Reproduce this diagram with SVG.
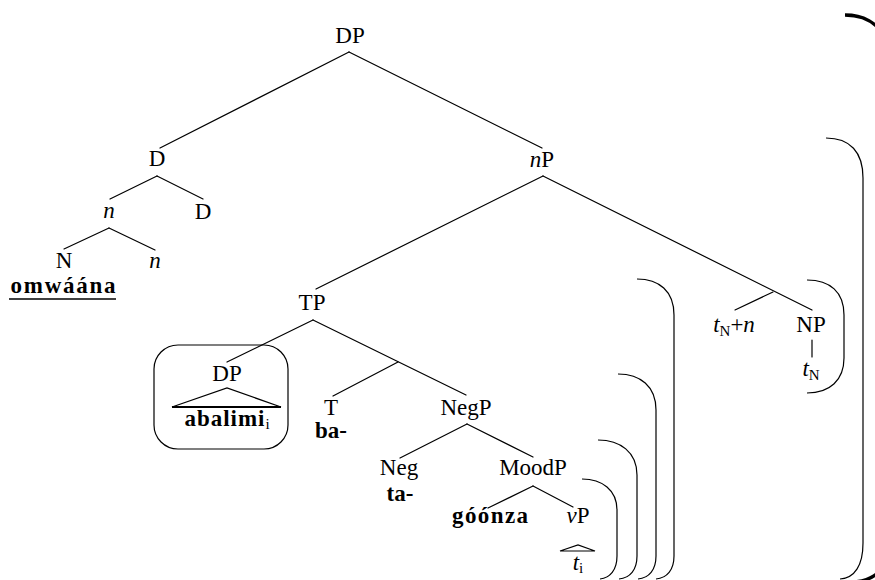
<svg xmlns="http://www.w3.org/2000/svg" width="875" height="580" viewBox="0 0 875 580">
<style>
.t{font-family:"Liberation Serif","Times New Roman",serif;font-size:23px;fill:#000;text-anchor:middle}
.b{font-weight:bold}
.i{font-style:italic}
.s{font-size:15px;font-style:normal}
.e{stroke:#000;stroke-width:1.2;fill:none;stroke-linecap:round}
.br{stroke:#000;stroke-width:1.2;fill:none}
.thick{stroke:#000;stroke-width:3.5;fill:none}
</style>
<rect width="875" height="580" fill="#fff"/>
<g id="connectors">
<line class="e" x1="349" y1="52" x2="160" y2="148"/>
<line class="e" x1="349" y1="52" x2="542" y2="148"/>
<line class="e" x1="157" y1="176" x2="110" y2="199"/>
<line class="e" x1="157" y1="176" x2="203" y2="199"/>
<line class="e" x1="109" y1="228" x2="64" y2="249"/>
<line class="e" x1="109" y1="228" x2="155" y2="250"/>
<line class="e" x1="543" y1="176" x2="316" y2="289"/>
<line class="e" x1="543" y1="176" x2="812" y2="310"/>
<line class="e" x1="773" y1="292" x2="735" y2="310"/>
<line class="e" x1="313" y1="320" x2="227" y2="362"/>
<line class="e" x1="313" y1="320" x2="466" y2="395"/>
<line class="e" x1="398" y1="362" x2="333" y2="396"/>
<line class="e" x1="467" y1="424" x2="400" y2="458"/>
<line class="e" x1="467" y1="424" x2="533" y2="457"/>
<line class="e" x1="533" y1="486" x2="488" y2="508"/>
<line class="e" x1="533" y1="486" x2="573" y2="507"/>
<line class="e" x1="812" y1="340" x2="812" y2="357"/>
</g>
<g id="brackets">
<path class="br" d="M 582 479 C 602 479, 617 490, 617 510 L 617 556 C 617 570, 610 578, 600 579"/>
<path class="br" d="M 598 440 C 620 440, 637 452, 637 475 L 637 556 C 637 570, 630 578, 619 579"/>
<path class="br" d="M 618 374 C 640 374, 656 386, 656 410 L 656 556 C 656 570, 649 578, 638 579"/>
<path class="br" d="M 637 279 C 659 279, 674 291, 674 315 L 674 556 C 674 570, 667 578, 656 579"/>
<path class="br" d="M 807 280 C 830 280, 844 292, 844 315 L 844 358 C 844 380, 830 393, 807 393"/>
<path class="br" d="M 826 138 C 850 138, 863 152, 863 178 L 863 543 C 863 565, 855 578, 840 579"/>
<path class="thick" d="M 845 15 C 862 15, 878 22, 886 40 L 886 560 C 880 575, 870 580, 855 582"/>
</g>
<g id="n-DP-top"><text class="t" x="350" y="43">DP</text></g>
<g id="n-D"><text class="t" x="157" y="166">D</text></g>
<g id="n-n1"><text class="t i" x="109" y="218">n</text></g>
<g id="n-D2"><text class="t" x="203" y="219">D</text></g>
<g id="n-N"><text class="t" x="64" y="268">N</text></g>
<g id="n-n2"><text class="t i" x="155" y="268">n</text></g>
<g id="n-omwaana"><text class="t b" x="63" y="293" textLength="105" lengthAdjust="spacing">omwáána</text>
<line x1="9" y1="299" x2="116" y2="299" stroke="#000" stroke-width="1.3"/></g>
<g id="n-nP"><text class="t" x="542" y="167"><tspan class="i">n</tspan>P</text></g>
<g id="n-TP"><text class="t" x="312" y="310">TP</text></g>
<g id="n-DP-box">
<rect x="154" y="345" width="134" height="104" rx="24" class="br"/>
<text class="t" x="227" y="381">DP</text>
<path class="e" d="M 172 407 L 227 388 L 281 407 Z"/>
<line x1="172" y1="407" x2="281" y2="407" stroke="#000" stroke-width="1.8"/>
<text class="t b" x="227" y="426"><tspan textLength="80" lengthAdjust="spacing">abalimi</tspan><tspan class="s" dy="3" font-weight="normal">i</tspan></text>
</g>
<g id="n-T"><text class="t" x="331" y="415">T</text><text class="t b" x="331" y="438">ba-</text></g>
<g id="n-NegP"><text class="t" x="466" y="415">NegP</text></g>
<g id="n-Neg"><text class="t" x="399" y="475">Neg</text><text class="t b" x="400" y="501">ta-</text></g>
<g id="n-MoodP"><text class="t" x="533" y="475">MoodP</text></g>
<g id="n-goonza"><text class="t b" x="490" y="523" textLength="76" lengthAdjust="spacing">góónza</text></g>
<g id="n-vP"><text class="t" x="578" y="523"><tspan class="i">v</tspan>P</text>
<path class="e" d="M 560 551 L 578 545 L 595 551 Z"/>
<text class="t" x="578" y="570"><tspan class="i">t</tspan><tspan class="s" dy="3">i</tspan></text>
</g>
<g id="n-tNn"><text class="t" x="734" y="332"><tspan class="i">t</tspan><tspan class="s" dy="4">N</tspan><tspan dy="-4">+</tspan><tspan class="i">n</tspan></text></g>
<g id="n-NP"><text class="t" x="811" y="332">NP</text></g>
<g id="n-tN"><text class="t" x="811" y="376"><tspan class="i">t</tspan><tspan class="s" dy="4">N</tspan></text></g>
</svg>
